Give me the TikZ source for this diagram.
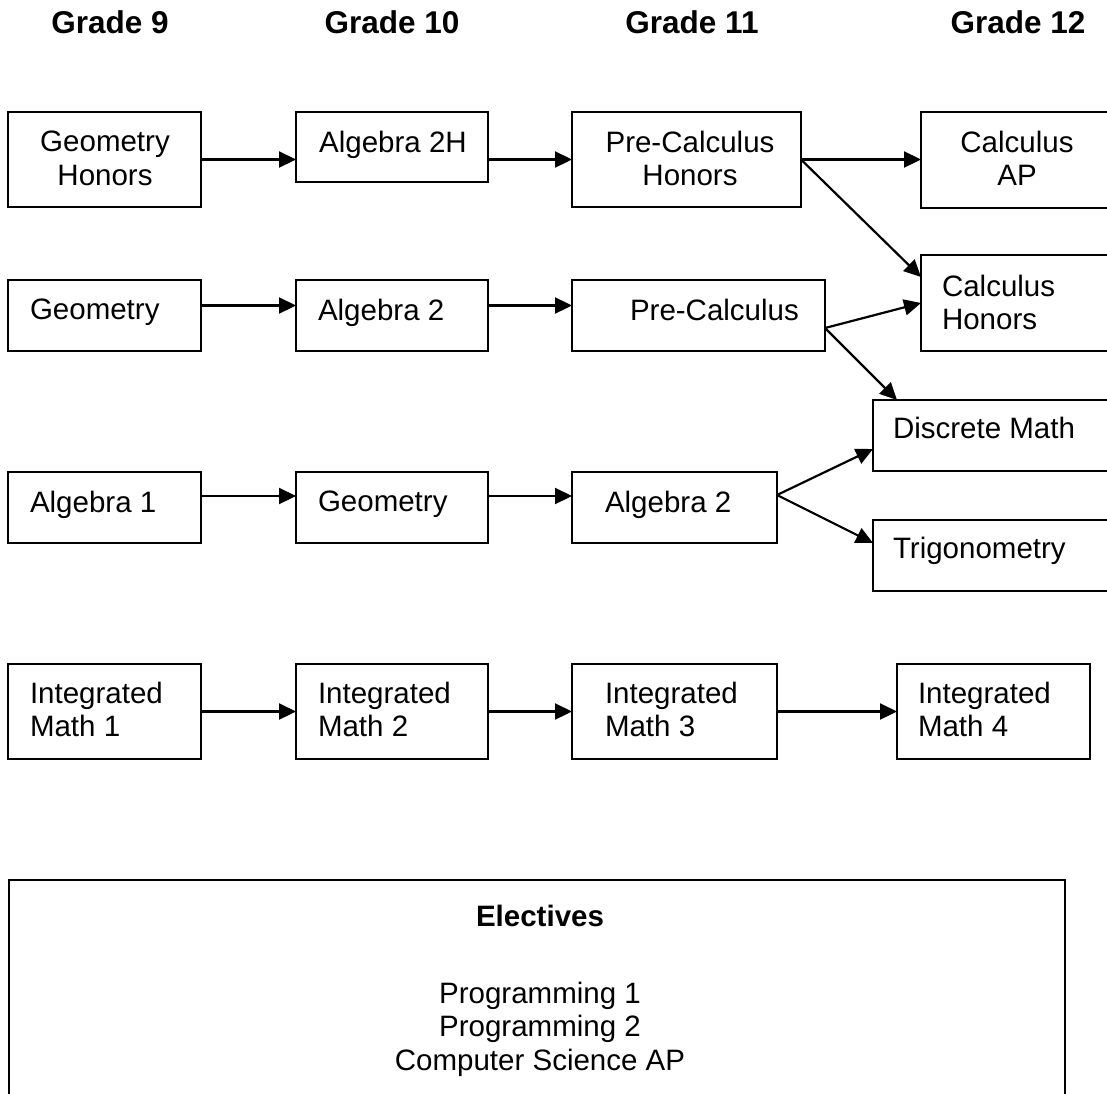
\documentclass[tikz,border=0pt]{standalone}
\usepackage{fontspec}
\setmainfont{Liberation Sans}
\usetikzlibrary{arrows.meta,fit,calc}
\begin{document}
\begin{tikzpicture}[x=1pt,y=-1pt,
  bx/.style={draw=black,line width=2.6pt,inner sep=0pt,outer sep=0pt},
  tx/.style={inner sep=0pt,outer sep=0pt,font=\fontsize{29.5}{33.5}\selectfont},
  hd/.style={inner sep=0pt,outer sep=0pt,font=\fontsize{31.5}{36}\selectfont\bfseries,anchor=base},
  arr/.style={line width=2.2pt,-{Triangle[length=17pt,width=16pt]}}]
\useasboundingbox (0,0) rectangle (1107,1093);
\clip (0,0) rectangle (1107,1093);
\fill[white] (0,0) rectangle (1107,1093);
% headers
\node[hd] (g9) at (110,33) {Grade 9};
\node[hd] (g10) at (392,33) {Grade 10};
\node[hd] (g11) at (692,33) {Grade 11};
\node[hd] (g12) at (1018,33) {Grade 12};
% boxes
\node[bx,fit={(8,112) (201,207)}] (gh) {};
\node[bx,fit={(296,112) (488,182)}] (atwoh) {};
\node[bx,fit={(572,112) (801,207)}] (pch) {};
\node[bx,fit={(921,112) (1113,208)}] (cap) {};
\node[bx,fit={(8,280) (201,351)}] (geo) {};
\node[bx,fit={(296,280) (488,351)}] (atwo) {};
\node[bx,fit={(572,280) (825,351)}] (pc) {};
\node[bx,fit={(921,255) (1120,351)}] (ch) {};
\node[bx,fit={(873,400) (1120,471)}] (dm) {};
\node[bx,fit={(873,520) (1120,591)}] (trig) {};
\node[bx,fit={(8,472) (201,543)}] (aone) {};
\node[bx,fit={(296,472) (488,543)}] (geob) {};
\node[bx,fit={(572,472) (777,543)}] (atwob) {};
\node[bx,fit={(8,664) (201,759)}] (imone) {};
\node[bx,fit={(296,664) (488,759)}] (imtwo) {};
\node[bx,fit={(572,664) (777,759)}] (imthree) {};
\node[bx,fit={(897,664) (1090,759)}] (imfour) {};
\node[bx,fit={(9,880) (1065,1140)}] (elec) {};
% texts
\node[tx,anchor=north,align=center] (tgh) at (105,131) {Geometry\\Honors};
\node[tx,anchor=north,align=center] (tatwoh) at (393,131) {Algebra 2H};
\node[tx,anchor=north,align=center] (tpch) at (690,131) {Pre-Calculus\\Honors};
\node[tx,anchor=north,align=center] (tcap) at (1017,131) {Calculus\\AP};
\node[tx,anchor=north west] (tgeo) at (30,299) {Geometry};
\node[tx,anchor=north west] (tatwo) at (318,299) {Algebra 2};
\node[tx,anchor=north west] (tpc) at (630,299) {Pre-Calculus};
\node[tx,anchor=north west,align=left] (tch) at (942,275) {Calculus\\Honors};
\node[tx,anchor=north west] (tdm) at (893,417) {Discrete Math};
\node[tx,anchor=north west] (ttrig) at (893,537) {Trigonometry};
\node[tx,anchor=north west] (taone) at (30,491) {Algebra 1};
\node[tx,anchor=north west] (tgeob) at (318,491) {Geometry};
\node[tx,anchor=north west] (tatwob) at (605,491) {Algebra 2};
\node[tx,anchor=north west,align=left] (timone) at (30,682) {Integrated\\Math 1};
\node[tx,anchor=north west,align=left] (timtwo) at (318,682) {Integrated\\Math 2};
\node[tx,anchor=north west,align=left] (timthree) at (605,682) {Integrated\\Math 3};
\node[tx,anchor=north west,align=left] (timfour) at (918,682) {Integrated\\Math 4};
\node[tx,anchor=north,font=\fontsize{29.5}{33.5}\selectfont\bfseries] (telec) at (540,905) {Electives};
\node[tx,anchor=north,align=center] (tlist) at (540,982) {Programming 1\\Programming 2\\Computer Science AP};
% arrows row 1
\draw[arr] (gh.east) -- (gh.east -| atwoh.west);
\draw[arr] (atwoh.east |- pch.east) -- (pch.west);
\draw[arr] (pch.east) -- (pch.east -| cap.west);
\draw[arr] (pch.east) -- ([yshift=-22pt]ch.north west);
% row 2
\draw[arr] ([yshift=10pt]geo.east) -- ([yshift=10pt]atwo.west);
\draw[arr] ([yshift=10pt]atwo.east) -- ([yshift=10pt]pc.west);
\draw[arr] ([yshift=-12.5pt]pc.east) -- (ch.west);
\draw[arr] ([yshift=-12.5pt]pc.east) -- ([xshift=24pt]dm.north west);
% row 3
\draw[arr] ([yshift=11.5pt]aone.east) -- ([yshift=11.5pt]geob.west);
\draw[arr] ([yshift=11.5pt]geob.east) -- ([yshift=11.5pt]atwob.west);
\draw[arr] ([yshift=12.5pt]atwob.east) -- ([yshift=-49pt]dm.north west);
\draw[arr] ([yshift=12.5pt]atwob.east) -- ([yshift=-23pt]trig.north west);
% row 4
\draw[arr] (imone.east) -- (imtwo.west);
\draw[arr] (imtwo.east) -- (imthree.west);
\draw[arr] (imthree.east) -- (imthree.east -| imfour.west);
\end{tikzpicture}
\end{document}
